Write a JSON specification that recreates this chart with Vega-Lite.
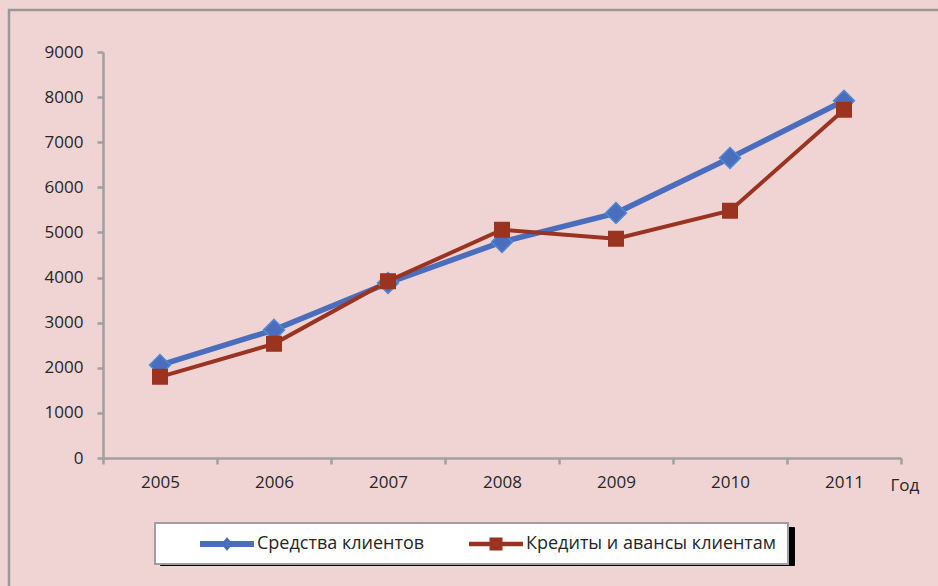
{
  "$schema": "https://vega.github.io/schema/vega-lite/v6.json",
  "autosize": {"type": "none"},
  "padding": {"left": 103, "top": 52, "right": 37, "bottom": 128},
  "width": 798,
  "height": 406,
  "background": "#f0d4d4",
  "config": {
    "font": "Open Sans",
    "view": {"stroke": null},
    "axis": {
      "domainColor": "#a0a0a0",
      "domainWidth": 2.5,
      "tickColor": "#a0a0a0",
      "tickWidth": 2.5,
      "tickSize": 6,
      "labelFont": "Open Sans",
      "labelFontSize": 17,
      "labelColor": "#262626",
      "grid": false
    }
  },
  "data": {
    "values": [
      {"year": "2005", "series": "Средства клиентов", "value": 2060},
      {"year": "2006", "series": "Средства клиентов", "value": 2840},
      {"year": "2007", "series": "Средства клиентов", "value": 3880},
      {"year": "2008", "series": "Средства клиентов", "value": 4790},
      {"year": "2009", "series": "Средства клиентов", "value": 5430},
      {"year": "2010", "series": "Средства клиентов", "value": 6650},
      {"year": "2011", "series": "Средства клиентов", "value": 7920},
      {"year": "2005", "series": "Кредиты и авансы клиентам", "value": 1800},
      {"year": "2006", "series": "Кредиты и авансы клиентам", "value": 2530},
      {"year": "2007", "series": "Кредиты и авансы клиентам", "value": 3920},
      {"year": "2008", "series": "Кредиты и авансы клиентам", "value": 5060},
      {"year": "2009", "series": "Кредиты и авансы клиентам", "value": 4860},
      {"year": "2010", "series": "Кредиты и авансы клиентам", "value": 5480},
      {"year": "2011", "series": "Кредиты и авансы клиентам", "value": 7720}
    ]
  },
  "encoding": {
    "x": {
      "field": "year",
      "type": "ordinal",
      "scale": {"paddingInner": 0, "paddingOuter": 0},
      "axis": {
        "labelAngle": 0,
        "tickBand": "extent",
        "labelPadding": 10,
        "title": "Год",
        "titleFont": "Open Sans",
        "titleFontSize": 17,
        "titleFontWeight": "normal",
        "titleColor": "#262626",
        "titleX": 787,
        "titleY": 32,
        "titleAlign": "left",
        "titleBaseline": "alphabetic"
      }
    },
    "y": {
      "field": "value",
      "type": "quantitative",
      "scale": {"domain": [0, 9000], "nice": false},
      "axis": {"values": [0, 1000, 2000, 3000, 4000, 5000, 6000, 7000, 8000, 9000], "labelPadding": 14, "title": null, "format": "d"}
    }
  },
  "resolve": {"legend": {"color": "independent"}},
  "layer": [
    {
      "mark": {"type": "line"},
      "encoding": {
        "color": {
          "field": "series",
          "type": "nominal",
          "scale": {"domain": ["Средства клиентов", "Кредиты и авансы клиентам"], "range": ["#4a6ebd", "#9a3420"]},
          "legend": {
            "title": null,
            "orient": "none",
            "legendX": 57,
            "legendY": 475,
            "direction": "horizontal",
            "fillColor": "#000000",
            "strokeColor": "#000000",
            "padding": 11,
            "columnPadding": 10,
            "symbolSize": 441,
            "symbolStrokeWidth": 0,
            "symbolOpacity": 0,
            "labelExpr": "''",
            "labelOffset": 280,
            "labelLimit": 600
          }
        },
        "strokeWidth": {
          "field": "series",
          "type": "nominal",
          "scale": {"domain": ["Средства клиентов", "Кредиты и авансы клиентам"], "range": [5.5, 4]},
          "legend": null
        }
      }
    },
    {
      "mark": {"type": "point", "filled": true, "strokeWidth": 1.5},
      "encoding": {
        "color": {
          "field": "series",
          "type": "nominal",
          "scale": {"domain": ["Средства клиентов", "Кредиты и авансы клиентам"], "range": ["#4a6ebd", "#9a3420"]},
          "legend": {
            "title": null,
            "orient": "none",
            "legendX": 52,
            "legendY": 471,
            "direction": "horizontal",
            "fillColor": "#ffffff",
            "strokeColor": "#a0a0a0",
            "padding": 11,
            "columnPadding": 10,
            "symbolSize": 400,
            "symbolStrokeWidth": 0,
            "labelFont": "Open Sans",
            "labelFontSize": 18,
            "labelColor": "#262626",
            "labelOffset": 71,
            "labelLimit": 600,
            "encoding": {
              "legend": {"strokeWidth": {"value": 2}},
              "symbols": {
                "shape": {"value": {"expr": "datum.value === 'Средства клиентов' ? 'M2.4,-0.3L7.8,-0.3L7.8,0.3L2.4,0.3Z M5.1,-0.7L5.65,0L5.1,0.7L4.55,0Z' : 'M2.4,-0.22L7.8,-0.22L7.8,0.22L2.4,0.22Z M4.45,-0.65L5.75,-0.65L5.75,0.65L4.45,0.65Z'"}},
                "strokeWidth": {"value": 0},
                "opacity": {"value": 1}
              }
            }
          }
        },
        "opacity": {
          "field": "year",
          "type": "ordinal",
          "scale": {"range": [1, 1]},
          "legend": {
            "title": null,
            "orient": "none",
            "legendX": -94,
            "legendY": -42,
            "values": ["2005"],
            "fillColor": "transparent",
            "strokeColor": "#999999",
            "padding": 0,
            "symbolSize": 1000000,
            "symbolOpacity": 0,
            "symbolStrokeWidth": 0,
            "labelExpr": "''",
            "encoding": {
              "legend": {"strokeWidth": {"value": 2.5}},
              "symbols": {
                "opacity": {"value": 0},
                "fill": {"value": "transparent"},
                "stroke": {"value": "transparent"},
                "strokeWidth": {"value": 0}
              }
            }
          }
        },
        "stroke": {
          "field": "series",
          "type": "nominal",
          "scale": {"domain": ["Средства клиентов", "Кредиты и авансы клиентам"], "range": ["#4f8bd0", "#9a3420"]},
          "legend": null
        },
        "shape": {
          "field": "series",
          "type": "nominal",
          "scale": {"domain": ["Средства клиентов", "Кредиты и авансы клиентам"], "range": ["diamond", "square"]},
          "legend": null
        },
        "size": {
          "field": "series",
          "type": "nominal",
          "scale": {"domain": ["Средства клиентов", "Кредиты и авансы клиентам"], "range": [440, 210]},
          "legend": null
        }
      }
    }
  ]
}
